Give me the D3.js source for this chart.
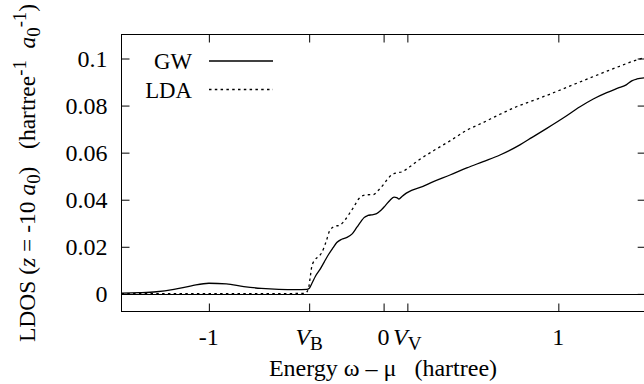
<!DOCTYPE html>
<html><head><meta charset="utf-8">
<script src="https://cdn.jsdelivr.net/npm/d3@7"></script>
<style>
body{margin:0;background:#fff}
svg text{font-family:"Liberation Serif","Times New Roman",serif;fill:#000}
</style>
</head><body>
<svg id="c" width="644" height="384"></svg>
<script>
// ---- data ----
const gwX = [-1.5,-1.4,-1.3,-1.2,-1.1,-1.0,-0.9,-0.8,-0.7,-0.6,-0.5,-0.44,-0.425,-0.41,-0.39,-0.363,-0.34,-0.316,-0.29,-0.268,-0.24,-0.21,-0.18,-0.153,-0.13,-0.112,-0.09,-0.068,-0.04,-0.015,0.01,0.037,0.06,0.075,0.088,0.105,0.13,0.16,0.209,0.285,0.38,0.476,0.57,0.666,0.78,0.85,0.934,1.03,1.124,1.2,1.277,1.34,1.391,1.42,1.45,1.5];
const gwY = [0.0003,0.0005,0.0009,0.0019,0.0034,0.0045,0.0042,0.0031,0.0023,0.0019,0.0018,0.0019,0.0024,0.0045,0.0075,0.0105,0.0135,0.0166,0.0195,0.0218,0.0232,0.0240,0.0255,0.0283,0.0307,0.0324,0.0333,0.0336,0.0341,0.0355,0.0375,0.0398,0.0411,0.0409,0.0403,0.0414,0.0428,0.0440,0.0452,0.0477,0.0505,0.0535,0.0562,0.0590,0.0633,0.0665,0.0703,0.0748,0.0795,0.0828,0.0855,0.0874,0.0889,0.0905,0.0913,0.0918];
const ldaX = [-1.5,-1.2,-0.9,-0.6,-0.45,-0.43,-0.42,-0.411,-0.392,-0.37,-0.354,-0.33,-0.306,-0.277,-0.25,-0.225,-0.2,-0.17,-0.144,-0.115,-0.09,-0.058,-0.03,-0.001,0.025,0.047,0.075,0.104,0.15,0.2,0.285,0.38,0.476,0.57,0.666,0.76,0.85,0.95,1.086,1.18,1.277,1.35,1.429,1.5];
const ldaY = [0.0001,0.0001,0.0001,0.0001,0.0002,0.0022,0.007,0.0116,0.0145,0.016,0.0175,0.022,0.0272,0.0287,0.0292,0.031,0.0336,0.037,0.0402,0.0418,0.0421,0.0422,0.044,0.0464,0.049,0.0506,0.0514,0.0518,0.054,0.0568,0.0608,0.065,0.0695,0.0728,0.0763,0.0795,0.082,0.0848,0.0889,0.0917,0.0946,0.0967,0.0989,0.1005];
const seriesNames = ["GW","LDA"];
const xTickValues = [-1,-0.426,0,0.136,1];
const xTickLabels = ["-1","V|B","0","V|V","1"];
const yTickValues = [0,0.02,0.04,0.06,0.08,0.1];
const yTickLabels = ["0","0.02","0.04","0.06","0.08","0.1"];

// ---- layout ----
const L=121.5, R=645.7, T=34.5, B=311.5;
const FS=24;
const svg=d3.select("#c");
const x=d3.scaleLinear().domain([-1.5,1.5]).range([L,R]);
const y=d3.scaleLinear().domain([-0.0075,0.1102]).range([B,T]);

svg.append("defs").append("clipPath").attr("id","clip")
  .append("rect").attr("x",L).attr("y",T).attr("width",R-L).attr("height",B-T);

// zero line
svg.append("line").attr("x1",L).attr("x2",R).attr("y1",Math.round(y(0))+0.5).attr("y2",Math.round(y(0))+0.5)
  .attr("stroke","#000").attr("stroke-width",1);

// axes (ticks inward, mirrored)
function styleAxis(g){g.select(".domain").remove();g.selectAll("line").attr("stroke","#000");}
svg.append("g").attr("transform",`translate(0,${B})`)
  .call(d3.axisBottom(x).tickValues(xTickValues).tickSize(-8).tickFormat(""))
  .call(styleAxis);
svg.append("g").attr("transform",`translate(0,${T})`)
  .call(d3.axisTop(x).tickValues(xTickValues).tickSize(-8).tickFormat(""))
  .call(styleAxis);
svg.append("g").attr("transform",`translate(${L},0)`)
  .call(d3.axisLeft(y).tickValues(yTickValues).tickSize(-8).tickFormat(""))
  .call(styleAxis);
svg.append("g").attr("transform",`translate(${R},0)`)
  .call(d3.axisRight(y).tickValues(yTickValues).tickSize(-8).tickFormat(""))
  .call(styleAxis);

// border
svg.append("rect").attr("x",L).attr("y",T).attr("width",R-L).attr("height",B-T)
  .attr("fill","none").attr("stroke","#000").attr("stroke-width",1);

// y tick labels
yTickValues.forEach((v,i)=>{
  svg.append("text").attr("x",L-14).attr("y",y(v)+8).attr("text-anchor","end")
    .attr("font-size",FS).text(yTickLabels[i]);
});
// x tick labels
xTickValues.forEach((v,i)=>{
  const lab=xTickLabels[i];
  const t=svg.append("text").attr("x",x(v)).attr("y",345).attr("text-anchor","middle").attr("font-size",FS);
  if(lab.includes("|")){
    const [a,b]=lab.split("|");
    t.append("tspan").attr("font-style","italic").text(a);
    t.append("tspan").attr("font-size",FS*0.8).attr("dy",5).text(b);
  } else t.text(lab);
});

// axis titles
const xt=svg.append("text").attr("x",383).attr("y",376).attr("text-anchor","middle").attr("font-size",FS);
xt.text("Energy \u03c9 \u2013 \u03bc   (hartree)").attr("xml:space","preserve").style("white-space","pre");

const yt=svg.append("text").attr("transform","translate(35,173) rotate(-90)").attr("text-anchor","middle")
  .attr("font-size",FS*0.98).style("white-space","pre");
yt.append("tspan").text("LDOS (");
yt.append("tspan").attr("font-style","italic").text("z");
yt.append("tspan").text(" = -10 ");
yt.append("tspan").attr("font-style","italic").text("a");
yt.append("tspan").attr("font-size",FS*0.78).attr("dy",5).text("0");
yt.append("tspan").attr("dy",-5).text(")   (hartree");
yt.append("tspan").attr("font-size",FS*0.78).attr("dy",-9).text("-1");
yt.append("tspan").attr("dy",9).text("  ");
yt.append("tspan").attr("font-style","italic").text("a");
yt.append("tspan").attr("font-size",FS*0.78).attr("dy",5).text("0");
yt.append("tspan").attr("font-size",FS*0.78).attr("dy",-14).text("-1");
yt.append("tspan").attr("dy",9).text(")");

// curves
const line=d3.line().x(d=>x(d[0])).y(d=>y(d[1])).curve(d3.curveMonotoneX);
const gw=gwX.map((v,i)=>[v,gwY[i]]);
const lda=ldaX.map((v,i)=>[v,ldaY[i]]);
const plot=svg.append("g").attr("clip-path","url(#clip)");
plot.append("path").attr("d",line(lda)).attr("fill","none").attr("stroke","#000")
  .attr("stroke-width",1.3).attr("stroke-dasharray","2.5,3.3");
plot.append("path").attr("d",line(gw)).attr("fill","none").attr("stroke","#000").attr("stroke-width",1.3);

// legend
const legY=[61,89.5];
seriesNames.forEach((n,i)=>{
  svg.append("text").attr("x",192).attr("y",legY[i]+8).attr("text-anchor","end").attr("font-size",FS*0.95).text(n);
  const l=svg.append("line").attr("x1",209).attr("x2",273).attr("y1",legY[i]).attr("y2",legY[i])
    .attr("stroke","#000").attr("stroke-width",1.3);
  if(i===1) l.attr("stroke-dasharray","2.5,3.3");
});
</script>
</body></html>
